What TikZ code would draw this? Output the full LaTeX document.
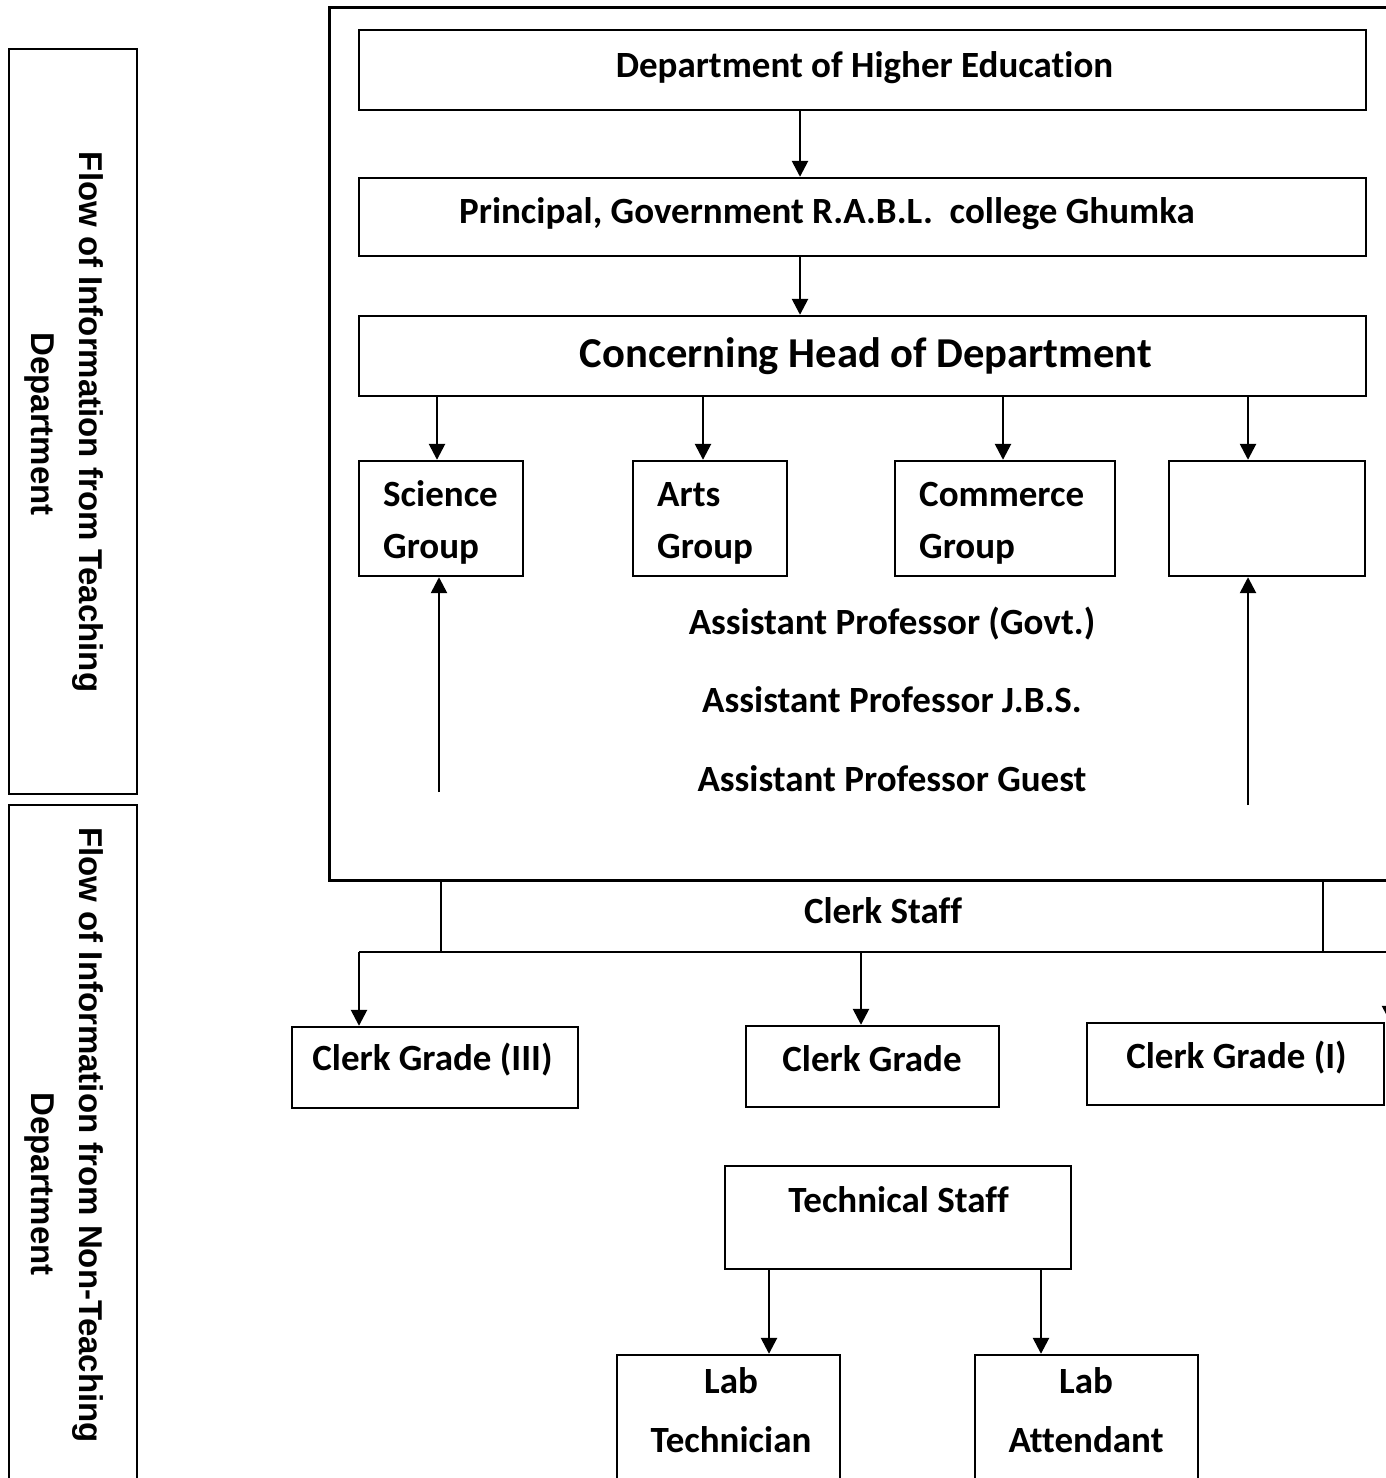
\documentclass[tikz,border=0pt]{standalone}
\usepackage{fontspec}
\setmainfont{Carlito}[Ligatures=NoCommon]
\newfontfamily\sidefont{Liberation Sans}
\usetikzlibrary{arrows.meta}

\tikzset{
  box/.style={draw, line width=2.4pt, inner sep=0pt},
  txt/.style={inner sep=0pt, anchor=base, font=\bfseries\fontsize{37}{52}\selectfont},
  side/.style={inner sep=0pt, anchor=base, rotate=-90, font=\sidefont\bfseries\fontsize{33}{40}\selectfont},
  arr/.style={line width=2.6pt, -{Triangle[length=16pt,width=16pt]}},
  lin/.style={line width=2.8pt}
}

\begin{document}
\begin{tikzpicture}[x=1pt,y=-1pt]
\useasboundingbox (0,0) rectangle (1386,1478);
\clip (0,0) rectangle (1386,1478);

% side panels
\node[box, minimum width=128, minimum height=745] (teachbox) at (73,421.5) {};
\node[box, minimum width=128, minimum height=695] (nonbox) at (73,1152.5) {};
\node[side] (teach1) at (79,422) {Flow of Information from Teaching};
\node[side] (teach2) at (31,424) {Department};
\node[side] (non1) at (79,1135) {Flow of Information from Non-Teaching};
\node[side] (non2) at (31,1184) {Department};

% teaching frame
\draw[line width=3pt] (329,7) rectangle (1430,880);

\node[box, minimum width=1007, minimum height=80] (dept) at (862.5,70) {};
\node[box, minimum width=1007, minimum height=78] (princ) at (862.5,217) {};
\node[box, minimum width=1007, minimum height=80] (hod) at (862.5,356) {};
\node[txt] (deptt) at (864.5,77) {Department of Higher Education};
\node[txt] (princt) at (827,223) {Principal, Government R.A.B.L.\ \ college Ghumka};
\node[txt, font=\bfseries\fontsize{42.6}{50}\selectfont] (hodt) at (866,367) {Concerning Head of Department};

\draw[arr] (800,0 |- dept.south) -- (800,0 |- princ.north);
\draw[arr] (800,0 |- princ.south) -- (800,0 |- hod.north);

% groups
\node[box, minimum width=164, minimum height=115] (sci) at (441,518.5) {};
\node[box, minimum width=154, minimum height=115] (arts) at (710,518.5) {};
\node[box, minimum width=220, minimum height=115] (com) at (1005,518.5) {};
\node[box, minimum width=196, minimum height=115] (blank) at (1267,518.5) {};
\node[txt, anchor=base west, align=left] (scit) at (383,558) {Science\\Group};
\node[txt, anchor=base west, align=left] (artst) at (657,558) {Arts\\Group};
\node[txt, anchor=base west, align=left] (comt) at (919,558) {Commerce\\Group};

\foreach \x/\g in {437/sci, 703/arts, 1003/com, 1248/blank}
  \draw[arr] (\x,0 |- hod.south) -- (\x,0 |- \g.north);

\node[txt] (ap1) at (892,634) {Assistant Professor (Govt.)};
\node[txt] (ap2) at (892,712) {Assistant Professor J.B.S.};
\node[txt] (ap3) at (892,791) {Assistant Professor Guest};

\coordinate (sciup) at (439,792);
\coordinate (blankup) at (1248,805);
\draw[arr] (sciup) -- (sciup |- sci.south);
\draw[arr] (blankup) -- (blankup |- blank.south);

% clerk staff
\draw[lin] (441,880) -- (441,952);
\draw[lin] (1323,880) -- (1323,952);
\draw[lin] (359,952) -- (1430,952);
\coordinate (bar) at (0,952);
\node[txt] (clerk) at (883,923) {Clerk Staff};

\node[box, minimum width=286, minimum height=81] (cg3) at (435,1067.5) {};
\node[box, minimum width=253, minimum height=81] (cg) at (872.5,1066.5) {};
\node[box, minimum width=297, minimum height=82] (cg1) at (1235.5,1064) {};
\node[txt] (cg3t) at (432.5,1070) {Clerk Grade (III)};
\node[txt] (cgt) at (872,1071) {Clerk Grade};
\node[txt] (cg1t) at (1236.5,1068) {Clerk Grade (I)};

\foreach \x/\b in {359/cg3, 861/cg, 1390/cg1}
  \draw[arr] (\x,0 |- bar) -- (\x,0 |- \b.north);

% technical staff
\node[box, minimum width=346, minimum height=103] (tech) at (898,1217.5) {};
\node[txt] (techt) at (898.5,1212) {Technical Staff};
\node[box, minimum width=223, minimum height=160] (labt) at (728.5,1435) {};
\node[box, minimum width=223, minimum height=160] (laba) at (1086.5,1435) {};
\node[txt, align=center, font=\bfseries\fontsize{37}{59}\selectfont] (labtt) at (731,1452) {Lab\\Technician};
\node[txt, align=center, font=\bfseries\fontsize{37}{59}\selectfont] (labat) at (1086,1452) {Lab\\Attendant};

\draw[arr] (769,0 |- tech.south) -- (769,0 |- labt.north);
\draw[arr] (1041,0 |- tech.south) -- (1041,0 |- laba.north);

\end{tikzpicture}
\end{document}
